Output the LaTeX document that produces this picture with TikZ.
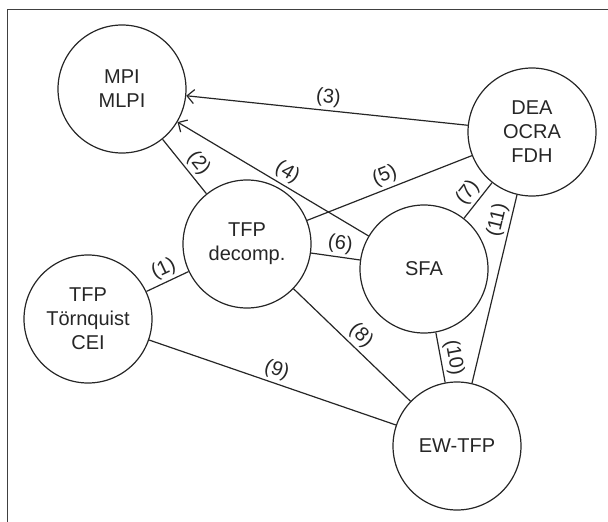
\documentclass[tikz,border=0pt]{standalone}
\usepackage{fontspec}
\setmainfont{Liberation Sans}
\usetikzlibrary{arrows.meta}
\begin{document}
\begin{tikzpicture}[x=1pt,y=-1pt,
  blob/.style={circle,draw=black!85,line width=1.2pt,minimum size=128pt,inner sep=0pt,align=center,text=black!85,font=\fontsize{20}{24}\selectfont},
  conn/.style={draw=black!85,line width=1.2pt},
  lbl/.style={sloped,above,inner sep=3pt,text=black!85,font=\fontsize{20}{24}\selectfont},
  tip/.style={-{Straight Barb[length=7pt,width=14pt]}}]
\useasboundingbox (0,0) rectangle (608,522);
\coordinate (fa) at (7.5,522);
\coordinate (fb) at (7.5,9.5);
\coordinate (fc) at (608,9.5);
\draw[black!75,line width=1.5pt] (fa) -- (fb) -- (fc);
\node[blob] (mpi) at (122,89) {MPI\\MLPI};
\node[blob] (tfp) at (247,244) {TFP\\decomp.};
\node[blob] (tor) at (88,319) {TFP\\Törnquist\\CEI};
\node[blob] (sfa) at (424,269) {SFA};
\node[blob] (dea) at (532,132) {DEA\\OCRA\\FDH};
\node[blob] (ew) at (457,446) {EW-TFP};
\draw[conn] (tor) -- node[lbl,pos=0.54]{(1)} (tfp);
\draw[conn] (mpi) -- node[lbl,pos=0.59]{(2)} (tfp);
\draw[conn,tip] (dea) -- node[lbl]{(3)} (mpi);
\draw[conn,tip] (sfa) -- node[lbl,pos=0.46]{(4)} (mpi);
\draw[conn] (tfp) -- node[lbl]{(5)} (dea);
\draw[conn] (tfp) -- node[lbl,pos=0.56]{(6)} (sfa);
\draw[conn] (sfa) -- node[lbl]{(7)} (dea);
\draw[conn] (tfp) -- node[lbl]{(8)} (ew);
\draw[conn] (tor) -- node[lbl]{(9)} (ew);
\draw[conn] (sfa) -- node[lbl,pos=0.55]{(10)} (ew);
\draw[conn] (dea) -- node[lbl,pos=0.15]{(11)} (ew);
\end{tikzpicture}
\end{document}
